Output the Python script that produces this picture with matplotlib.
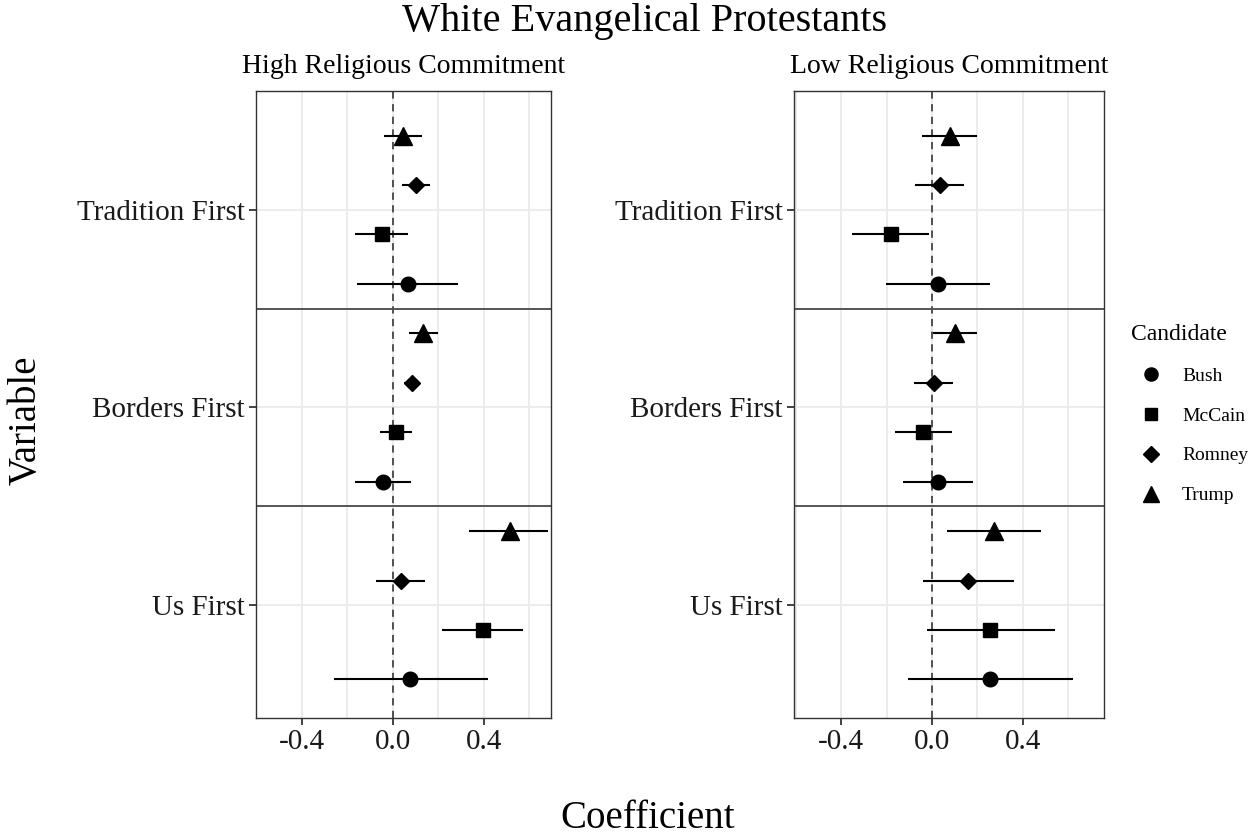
import numpy as np
import matplotlib.pyplot as plt
from matplotlib.lines import Line2D

plt.rcParams['font.family'] = ['Liberation Serif', 'DejaVu Serif']

# Data
variables = ["Us First", "Borders First", "Tradition First"]   # bottom to top
candidates = ["Bush", "McCain", "Romney", "Trump"]
markers = {"Bush": "o", "McCain": "s", "Romney": "D", "Trump": "^"}
msizes = {"Bush": 10.5, "McCain": 9.5, "Romney": 8.5, "Trump": 13}

# estimates per candidate, ordered like variables (Us, Borders, Tradition)
high_est = {
    "Bush":   [0.077, -0.044, 0.065],
    "McCain": [0.394, 0.013, -0.048],
    "Romney": [0.034, 0.084, 0.100],
    "Trump":  [0.513, 0.132, 0.045],
}
high_lo = {
    "Bush":   [-0.261, -0.166, -0.157],
    "McCain": [0.215, -0.057, -0.166],
    "Romney": [-0.073, 0.048, 0.040],
    "Trump":  [0.336, 0.069, -0.040],
}
high_hi = {
    "Bush":   [0.420, 0.080, 0.286],
    "McCain": [0.573, 0.085, 0.067],
    "Romney": [0.143, 0.120, 0.163],
    "Trump":  [0.684, 0.196, 0.130],
}

low_est = {
    "Bush":   [0.255, 0.026, 0.026],
    "McCain": [0.257, -0.038, -0.183],
    "Romney": [0.160, 0.007, 0.034],
    "Trump":  [0.272, 0.102, 0.079],
}
low_lo = {
    "Bush":   [-0.107, -0.128, -0.203],
    "McCain": [-0.024, -0.165, -0.352],
    "Romney": [-0.041, -0.079, -0.077],
    "Trump":  [0.066, 0.003, -0.043],
}
low_hi = {
    "Bush":   [0.622, 0.182, 0.255],
    "McCain": [0.541, 0.088, -0.015],
    "Romney": [0.364, 0.093, 0.143],
    "Trump":  [0.481, 0.200, 0.200],
}

# dodge offsets (Bush lowest, Trump highest)
offsets = {"Bush": -0.375, "McCain": -0.125, "Romney": 0.125, "Trump": 0.375}

fig = plt.figure(figsize=(12.52, 8.39), dpi=100)
ax1 = fig.add_axes([256 / 1252, 1 - 718 / 839, 295 / 1252, 627 / 839])
ax2 = fig.add_axes([794 / 1252, 1 - 718 / 839, 310 / 1252, 627 / 839])


def draw_panel(ax, est, lo, hi, xlim, title):
    ypos = np.arange(1, len(variables) + 1)
    for x in np.arange(-0.6, 0.81, 0.2):
        ax.axvline(x, color="#ebebeb", lw=1.3, zorder=0)
    for y in ypos:
        ax.axhline(y, color="#ebebeb", lw=1.3, zorder=0)
    ax.axvline(0, color="#444444", lw=1.3, ls=(0, (4, 3)), zorder=1)
    for y in [1.5, 2.5]:
        ax.axhline(y, color="#555555", lw=1.4, zorder=1)
    for c in candidates:
        yy = ypos + offsets[c]
        ax.hlines(yy, lo[c], hi[c], color="black", lw=1.5, zorder=2)
        ax.plot(est[c], yy, ls="none", marker=markers[c], ms=msizes[c],
                color="black", zorder=3)
    ax.set_xlim(*xlim)
    ax.set_ylim(0.43, 3.6)
    ax.set_xticks([-0.4, 0.0, 0.4])
    ax.set_xticklabels(["-0.4", "0.0", "0.4"])
    ax.set_yticks(ypos)
    ax.set_yticklabels(variables)
    ax.tick_params(labelsize=21, length=5, width=1.3, color="#333333",
                   labelcolor="#1a1a1a", pad=3)
    for s in ax.spines.values():
        s.set_color("#333333")
        s.set_linewidth(1.0)
    ax.set_title(title, fontsize=20, pad=13)


draw_panel(ax1, high_est, high_lo, high_hi, (-0.602, 0.695),
           "High Religious Commitment")
draw_panel(ax2, low_est, low_lo, low_hi, (-0.609, 0.759),
           "Low Religious Commitment")

fig.text(0.515, 1 - 22 / 839, "White Evangelical Protestants", ha="center",
         va="center", fontsize=29)
fig.text(0.517, 1 - 818 / 839, "Coefficient", ha="center", va="center",
         fontsize=28)
fig.text(26 / 1252, 1 - 420 / 839, "Variable", ha="center", va="center",
         rotation=90, fontsize=28)

handles = [Line2D([], [], ls="none", marker=markers[c], ms=msizes[c] * 0.9,
                  color="black", label=c) for c in candidates]
leg = fig.legend(handles=handles, title="Candidate", loc="center left",
                 bbox_to_anchor=(1114 / 1252, 1 - 414 / 839), frameon=False,
                 fontsize=14, title_fontsize=17, labelspacing=1.15,
                 handletextpad=0.6, handlelength=2.0)
leg._legend_box.align = "left"

fig.savefig("out.png", dpi=100)
